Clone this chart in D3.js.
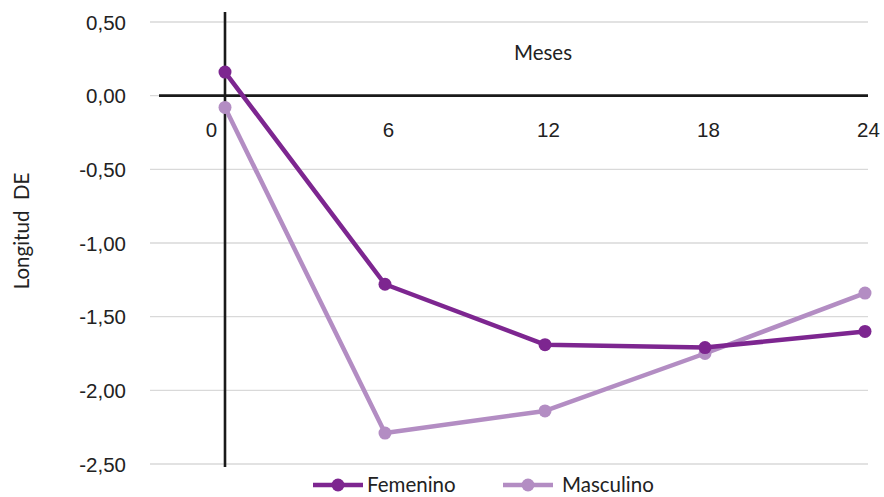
<!DOCTYPE html>
<html>
<head>
<meta charset="utf-8">
<script src="https://cdn.jsdelivr.net/npm/d3@7"></script>
<style>
  html, body { margin: 0; padding: 0; background: #fff; }
  svg { display: block; font-family: Lato, "Open Sans", sans-serif; }
</style>
</head>
<body>
<svg id="chart" width="884" height="497"></svg>
<script>
// Months of follow-up and length z-scores (DE) by sex
const months = [0, 6, 12, 18, 24];
const femenino = [0.16, -1.28, -1.69, -1.71, -1.60];
const masculino = [-0.08, -2.29, -2.14, -1.75, -1.34];
const yTicks = [0.5, 0, -0.5, -1, -1.5, -2, -2.5];
const seriesNames = ["Femenino", "Masculino"];
const colors = ["#7d2690", "#b38dc3"];

const FS = 20.5;
const svg = d3.select("#chart");
const x = d3.scaleLinear().domain([0, 24]).range([225, 865]);
const y = d3.scaleLinear().domain([-2.5, 0.5]).range([464, 22]);
const fmt = v => d3.format(".2f")(v).replace(".", ",").replace("−", "-");

// gridlines and y tick labels
const yAxis = d3.axisLeft(y).tickValues(yTicks).tickSize(0).tickPadding(0).tickFormat(fmt);
const gy = svg.append("g").attr("transform", "translate(126,0)").call(yAxis);
gy.select(".domain").remove();
gy.selectAll("text").attr("font-size", FS).attr("fill", "#222").attr("dy", "0.35em").attr("x", 0);

svg.append("g").selectAll("line").data(yTicks).join("line")
  .attr("x1", 150).attr("x2", 868)
  .attr("y1", d => y(d)).attr("y2", d => y(d))
  .attr("stroke", "#d9d9d9").attr("stroke-width", 1.3);

// axis lines crossing at the origin
svg.append("line").attr("x1", 159).attr("x2", 868)
  .attr("y1", y(0)).attr("y2", y(0)).attr("stroke", "#1a1a1a").attr("stroke-width", 2.6);
svg.append("line").attr("x1", x(0)).attr("x2", x(0))
  .attr("y1", 12).attr("y2", 467).attr("stroke", "#1a1a1a").attr("stroke-width", 2.6);

// month labels under the horizontal axis
const xAxis = d3.axisBottom(x).tickValues(months).tickSize(0).tickPadding(0).tickFormat(d3.format("d"));
const gx = svg.append("g").attr("transform", `translate(0,${y(0)})`).call(xAxis);
gx.select(".domain").remove();
gx.selectAll("text").attr("font-size", FS).attr("fill", "#222")
  .attr("y", 34).attr("dy", "0.35em")
  .attr("x", d => d === 0 ? -14 : 3);

svg.append("text").attr("x", 543).attr("y", 53).attr("dy", "0.35em")
  .attr("text-anchor", "middle").attr("font-size", FS).attr("fill", "#222").text("Meses");

svg.append("text").attr("transform", "translate(22,231) rotate(-90)")
  .attr("text-anchor", "middle").attr("dy", "0.35em").attr("font-size", FS)
  .attr("fill", "#222").attr("xml:space", "preserve").text("Longitud  DE");

// series
const data = [femenino, masculino];
const line = d3.line().x((d, i) => x(months[i])).y(d => y(d));
// draw the lighter series first so the darker one sits on top at crossings
[1, 0].forEach(s => {
  const g = svg.append("g");
  g.append("path").attr("d", line(data[s])).attr("fill", "none")
    .attr("stroke", colors[s]).attr("stroke-width", 4.5).attr("stroke-linejoin", "round");
  g.selectAll("circle").data(data[s]).join("circle")
    .attr("cx", (d, i) => x(months[i])).attr("cy", d => y(d)).attr("r", 6.5)
    .attr("fill", colors[s]);
});

// legend
const legend = svg.append("g");
const legX = [313, 503];
seriesNames.forEach((name, i) => {
  const lg = legend.append("g").attr("transform", `translate(${legX[i]},485)`);
  lg.append("line").attr("x1", 0).attr("x2", 50).attr("stroke", colors[i]).attr("stroke-width", 4.5);
  lg.append("circle").attr("cx", 25).attr("r", 6.5).attr("fill", colors[i]);
  lg.append("text").attr("x", i === 0 ? 54 : 59).attr("dy", "0.35em").attr("font-size", FS).attr("fill", "#222").text(name);
});
</script>
</body>
</html>
